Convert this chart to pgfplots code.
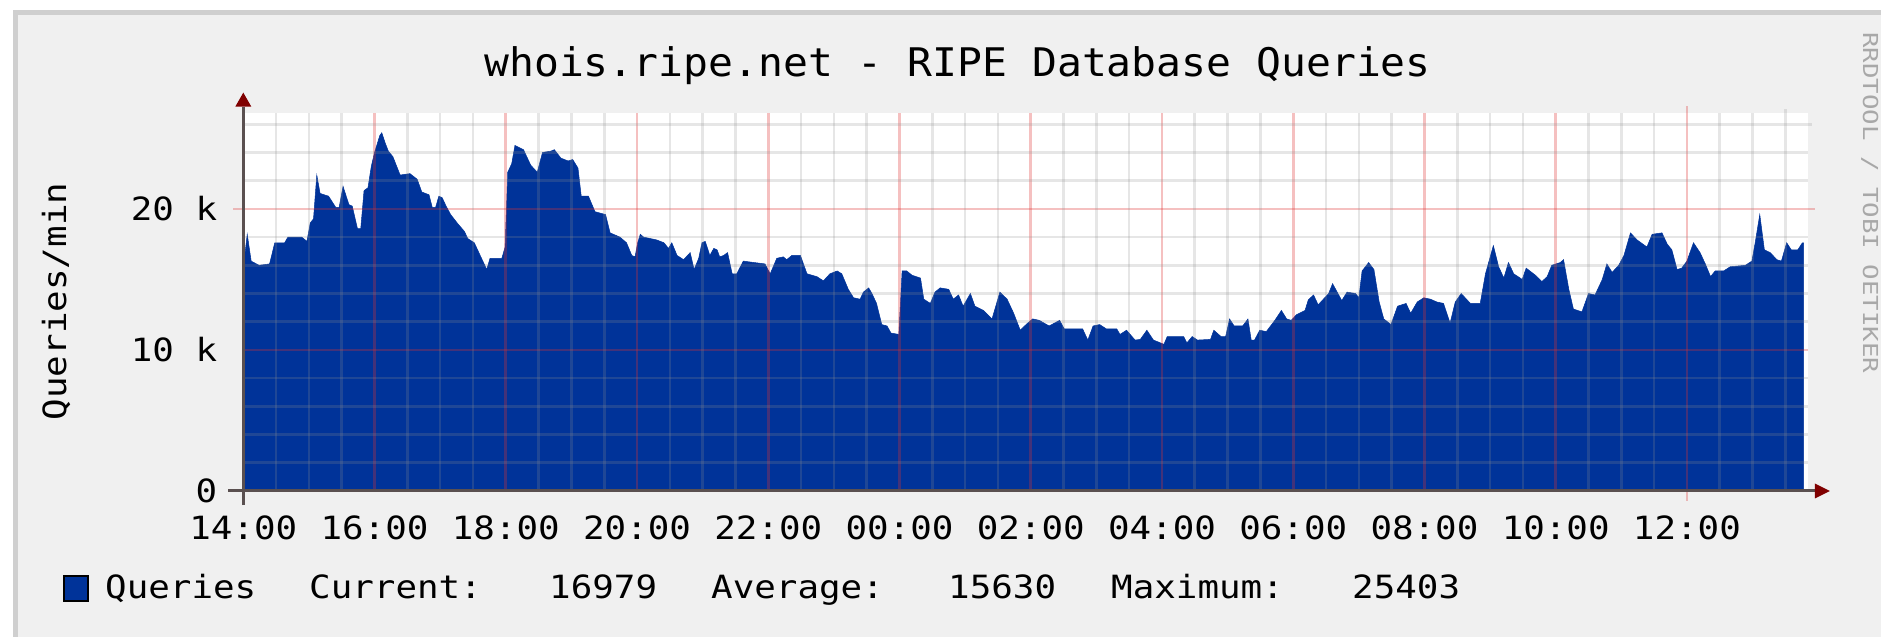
\documentclass[border=0pt]{standalone}
\usepackage{fontspec}
\usepackage{pgfplots}
\pgfplotsset{compat=1.18}
\setmainfont{DejaVu Sans Mono}
\newfontfamily\rrd[FakeStretch=1.12]{DejaVu Sans Mono}
\newfontfamily\rrdtitle[FakeStretch=1.05]{DejaVu Sans Mono}
\newfontfamily\rrdwm[FakeStretch=1.25]{DejaVu Sans Mono}
\newcommand{\ticks}{\rrd\fontsize{32}{38}\selectfont}
\newcommand{\titlef}{\rrdtitle\fontsize{39.4}{46}\selectfont}
\newcommand{\wmf}{\rrdwm\fontsize{20.6}{24}\selectfont}
\definecolor{rrdblue}{HTML}{003399}
\definecolor{bgc}{HTML}{F0F0F0}
\definecolor{shadea}{HTML}{CFCFCF}
\definecolor{gridc}{HTML}{8F8F8F}
\definecolor{mgridc}{HTML}{DE3030}
\definecolor{arrowc}{HTML}{800000}
\definecolor{axisc}{HTML}{5A5050}
\definecolor{wmc}{HTML}{A8A8A8}
\pgfplotstableread{
h v
0.00 16.4
0.03 17.0
0.06 18.2
0.12 16.3
0.24 16.0
0.40 16.1
0.48 17.6
0.63 17.6
0.68 18.0
0.89 18.0
0.97 17.7
1.02 19.0
1.07 19.3
1.12 22.4
1.17 21.1
1.30 20.9
1.41 20.1
1.46 20.1
1.52 21.6
1.61 20.3
1.66 20.2
1.74 18.6
1.79 18.6
1.84 21.3
1.90 21.5
1.95 23.0
2.00 24.0
2.08 25.2
2.11 25.4
2.16 24.7
2.21 24.1
2.28 23.7
2.39 22.4
2.54 22.5
2.65 22.1
2.72 21.2
2.83 21.0
2.88 20.1
2.93 20.1
2.98 20.9
3.03 20.8
3.09 20.2
3.16 19.6
3.26 19.0
3.37 18.4
3.42 17.9
3.52 17.6
3.63 16.5
3.71 15.7
3.76 16.5
3.94 16.5
3.99 17.3
4.03 22.6
4.09 23.2
4.14 24.5
4.27 24.2
4.38 23.1
4.48 22.6
4.56 24.0
4.69 24.1
4.74 24.2
4.84 23.6
4.95 23.4
5.02 23.5
5.10 22.9
5.15 20.9
5.26 20.9
5.36 19.8
5.52 19.6
5.59 18.3
5.74 18.0
5.84 17.6
5.92 16.7
5.97 16.6
6.01 17.6
6.05 18.2
6.10 18.0
6.20 17.9
6.30 17.8
6.41 17.6
6.48 17.2
6.53 17.6
6.61 16.7
6.71 16.4
6.81 16.9
6.87 15.7
6.94 16.5
6.99 17.6
7.04 17.7
7.11 16.7
7.17 17.2
7.22 17.1
7.26 16.6
7.32 16.7
7.38 16.9
7.45 15.4
7.52 15.4
7.62 16.3
7.78 16.2
7.95 16.1
8.03 15.4
8.13 16.5
8.23 16.6
8.28 16.4
8.36 16.7
8.49 16.7
8.59 15.4
8.74 15.2
8.84 14.9
8.94 15.4
9.05 15.6
9.12 15.4
9.22 14.3
9.30 13.7
9.40 13.6
9.45 14.1
9.53 14.4
9.58 14.0
9.65 13.3
9.73 11.8
9.81 11.7
9.87 11.2
9.99 11.1
10.04 15.6
10.11 15.6
10.19 15.3
10.32 15.1
10.37 13.6
10.47 13.3
10.54 14.1
10.62 14.4
10.75 14.3
10.82 13.6
10.90 13.9
10.97 13.1
11.08 14.0
11.15 13.1
11.28 12.8
11.41 12.2
11.53 14.1
11.64 13.6
11.74 12.6
11.84 11.4
11.94 11.85
12.03 12.2
12.13 12.1
12.28 11.7
12.44 12.1
12.51 11.5
12.79 11.5
12.87 10.7
12.95 11.7
13.05 11.8
13.15 11.5
13.31 11.5
13.36 11.1
13.46 11.4
13.59 10.7
13.67 10.75
13.77 11.4
13.87 10.7
14.03 10.4
14.08 10.95
14.33 10.95
14.38 10.5
14.46 10.95
14.54 10.7
14.74 10.75
14.79 11.4
14.90 10.95
14.97 10.95
15.03 12.2
15.10 11.7
15.23 11.7
15.31 12.2
15.36 10.7
15.41 10.7
15.49 11.4
15.59 11.3
15.72 12.1
15.82 12.8
15.90 12.2
15.97 12.1
16.05 12.5
16.18 12.8
16.23 13.55
16.31 13.9
16.38 13.2
16.46 13.6
16.54 14.0
16.60 14.7
16.67 14.1
16.74 13.5
16.82 14.1
16.95 14.0
17.00 13.7
17.05 15.6
17.15 16.2
17.23 15.7
17.31 13.4
17.38 12.2
17.49 11.8
17.59 13.1
17.72 13.3
17.79 12.6
17.89 13.4
17.99 13.7
18.09 13.6
18.19 13.4
18.29 13.3
18.39 11.9
18.47 13.4
18.56 14.0
18.70 13.3
18.85 13.3
18.93 15.4
19.05 17.4
19.13 15.9
19.21 15.1
19.28 16.2
19.36 15.4
19.49 15.0
19.55 15.8
19.69 15.3
19.79 14.85
19.87 15.2
19.94 16.0
20.07 16.2
20.12 16.4
20.20 14.3
20.27 12.9
20.40 12.7
20.50 14.0
20.60 13.9
20.71 15.0
20.78 16.1
20.86 15.5
20.96 16.0
21.04 16.7
21.14 18.3
21.24 17.8
21.39 17.3
21.47 18.2
21.62 18.3
21.70 17.5
21.77 17.1
21.85 15.7
21.92 15.8
22.00 16.3
22.10 17.6
22.20 16.9
22.28 16.1
22.36 15.2
22.43 15.6
22.56 15.6
22.66 15.9
22.89 16.0
22.99 16.3
23.04 17.6
23.11 19.6
23.18 17.1
23.27 16.9
23.37 16.4
23.44 16.3
23.52 17.6
23.59 17.1
23.69 17.1
23.76 17.6
23.78 17.6
}\queries
\begin{document}
\begin{tikzpicture}[x=1pt,y=1pt]
\fill[white] (0,0) rectangle (1881,637);
\fill[shadea] (12.5,0) rectangle (1881,627);
\fill[bgc] (18,0) rectangle (1881,622);
\useasboundingbox (0,0) rectangle (1881,637);
\begin{axis}[
  at={(243.3pt,146pt)}, anchor=south west,
  scale only axis, width=1565pt, height=378pt,
  xmin=0, xmax=23.85, ymin=0, ymax=26.8,
  clip=false,
  axis on top,
  axis background/.style={fill=white},
  axis line style={draw=none},
  xtick={0,2,...,22},
  xticklabels={14:00,16:00,18:00,20:00,22:00,00:00,02:00,04:00,06:00,08:00,10:00,12:00},
  ytick={0,10,20}, yticklabels={0,10 k,20 k},
  minor tick num=0,
  major tick length=0pt, minor tick length=0pt,
  grid=major,
  major grid style={draw=mgridc, draw opacity=0.3, line width=2.6pt, shorten <=-10pt, shorten >=-7pt},
  extra x ticks={0.5,1,1.5,2.5,3,3.5,4.5,5,5.5,6.5,7,7.5,8.5,9,9.5,10.5,11,11.5,12.5,13,13.5,14.5,15,15.5,16.5,17,17.5,18.5,19,19.5,20.5,21,21.5,22.5,23,23.5},
  extra x tick labels={},
  extra y ticks={2,4,6,8,12,14,16,18,22,24,26},
  extra y tick labels={},
  extra tick style={grid=major, major tick length=0pt,
    major grid style={draw=gridc, draw opacity=0.22, line width=2.6pt, shorten <=0pt, shorten >=-4pt}},
  xticklabel style={font=\ticks, anchor=base, inner sep=0pt, yshift=-48.3pt},
  yticklabel style={font=\ticks, anchor=east, inner sep=0pt, xshift=-26pt},
  after end axis/.code={
    \draw[axisc, line width=3pt] (axis cs:-0.23,0) -- (axis cs:23.95,0);
    \fill[arrowc] ([yshift=7.5pt]axis cs:23.95,0) -- ([xshift=15pt]axis cs:23.95,0) -- ([yshift=-7.5pt]axis cs:23.95,0) -- cycle;
    \draw[axisc, line width=3pt] (axis cs:0,-1) -- (axis cs:0,27.25);
    \fill[arrowc] ([xshift=-8pt]axis cs:0,27.25) -- ([yshift=14pt]axis cs:0,27.25) -- ([xshift=8pt]axis cs:0,27.25) -- cycle;
  },
]
\addplot[fill=rrdblue, draw=rrdblue, line width=0.5pt] table[x=h, y=v] {\queries} \closedcycle;
\end{axis}
\node[font=\titlef, anchor=base, inner sep=0pt] at (957.6,560.5) {whois.ripe.net - RIPE Database Queries};
\node[font=\ticks, rotate=90, anchor=base, inner sep=0pt] at (66,335.5) {Queries/min};
\node[font=\wmf, text=wmc, rotate=-90, anchor=base west, inner sep=0pt] at (1863,605) {RRDTOOL / TOBI OETIKER};
\draw[line width=2pt, fill=rrdblue] (63.5,36.3) rectangle (88.3,61);
\node[font=\ticks, anchor=base west, inner sep=0pt] at (105,38) {Queries};
\node[font=\ticks, anchor=base west, inner sep=0pt] at (309,38) {Current:};
\node[font=\ticks, anchor=base west, inner sep=0pt] at (549,38) {16979};
\node[font=\ticks, anchor=base west, inner sep=0pt] at (711,38) {Average:};
\node[font=\ticks, anchor=base west, inner sep=0pt] at (948,38) {15630};
\node[font=\ticks, anchor=base west, inner sep=0pt] at (1111,38) {Maximum:};
\node[font=\ticks, anchor=base west, inner sep=0pt] at (1352,38) {25403};
\end{tikzpicture}
\end{document}
